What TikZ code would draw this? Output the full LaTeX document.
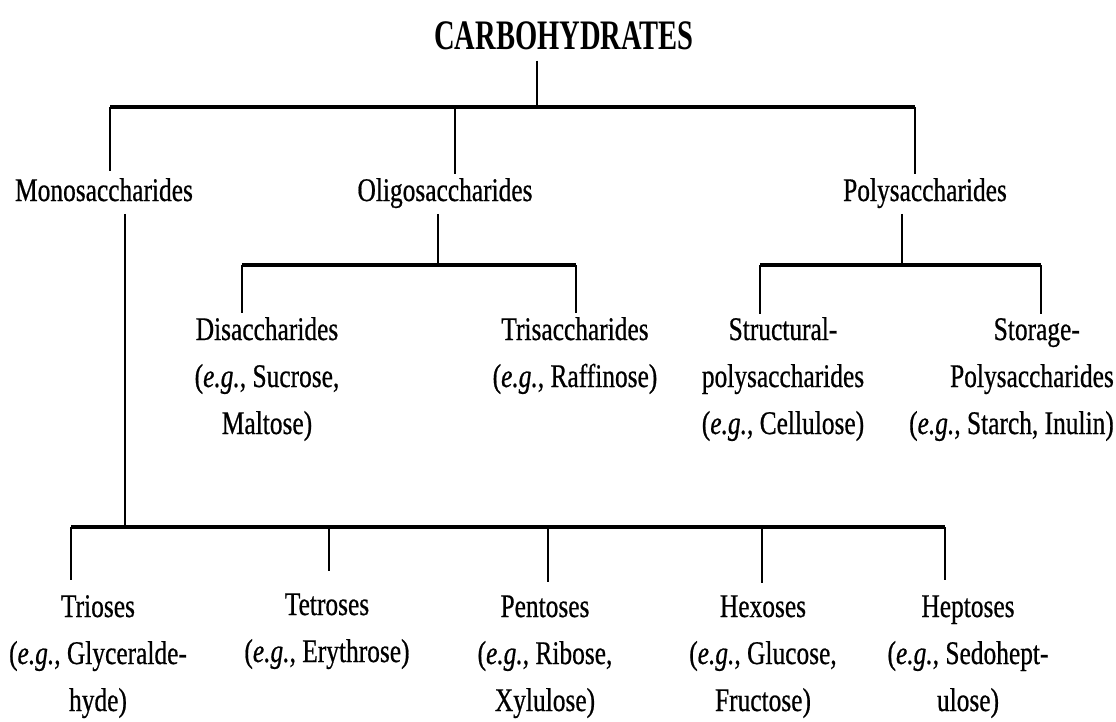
\documentclass[tikz,border=0pt]{standalone}
\usepackage{fontspec}
\setmainfont{Liberation Serif}[FakeStretch=0.77,FakeBold=0.6]
\newfontfamily\titlefnt{Liberation Serif}[FakeStretch=0.68]
\newcommand{\eg}{\textit{e.g.}}
\begin{document}
\begin{tikzpicture}[x=1pt,y=-1pt,
  bar/.style={line width=4.2pt},
  stem/.style={line width=2.2pt},
  lbl/.style={align=center,anchor=base,inner sep=0pt,font=\fontsize{33}{47}\selectfont},
  ttl/.style={anchor=base,inner sep=0pt,font=\titlefnt\bfseries\fontsize{42}{50}\selectfont}]
\useasboundingbox[fill=white] (0,0) rectangle (1116,722);

% nodes (base anchor = baseline of the last line)
\node[ttl] (carb) at (564,50) {CARBOHYDRATES};
\node[lbl] (mono) at (104,201) {Monosaccharides};
\node[lbl] (oligo) at (445,201) {Oligosaccharides};
\node[lbl] (poly) at (925,201) {Polysaccharides};

\node[lbl] (di) at (267,434) {Disaccharides\\(\eg, Sucrose,\\Maltose)};
\node[lbl] (tri) at (575,387) {Trisaccharides\\(\eg, Raffinose)};
\node[lbl] (struct) at (783,434) {Structural-\\polysaccharides\\(\eg, Cellulose)};
\node[lbl,align=right,anchor=base east] (stor) at (1114,434) {Storage-\hspace*{34pt}\\Polysaccharides\\(\eg, Starch, Inulin)};

\node[lbl] (trio) at (98,711) {Trioses\\(\eg, Glyceralde-\\hyde)};
\node[lbl] (tetr) at (327,662) {Tetroses\\(\eg, Erythrose)};
\node[lbl] (pent) at (545,711) {Pentoses\\(\eg, Ribose,\\Xylulose)};
\node[lbl] (hexo) at (763,711) {Hexoses\\(\eg, Glucose,\\Fructose)};
\node[lbl] (hept) at (968,711) {Heptoses\\(\eg, Sedohept-\\ulose)};

% junction coordinates
\coordinate (t0) at (537,107);
\coordinate (t1) at (110,107);
\coordinate (t2) at (455,107);
\coordinate (t3) at (915,107);
\coordinate (o0) at (438,265);
\coordinate (o1) at (242,265);
\coordinate (o2) at (576,265);
\coordinate (p0) at (902,265);
\coordinate (p1) at (760,265);
\coordinate (p2) at (1041,265);
\coordinate (m0) at (125,527);
\coordinate (m1) at (71,527);
\coordinate (m2) at (329,527);
\coordinate (m3) at (548,527);
\coordinate (m4) at (762,527);
\coordinate (m5) at (945,527);

% level 1
\draw[stem,shorten <=10pt] (carb.south -| t0) -- (t0);
\draw[bar] (t1) -- (t3);
\draw[stem] (t1) -- (110,171);
\draw[stem] (t2) -- (455,174);
\draw[stem] (t3) -- (915,174);

% oligosaccharides
\draw[stem] (438,214) -- (o0);
\draw[bar] (o1) -- (o2);
\draw[stem] (o1) -- (242,313);
\draw[stem] (o2) -- (576,313);

% polysaccharides
\draw[stem] (902,214) -- (p0);
\draw[bar] (p1) -- (p2);
\draw[stem] (p1) -- (760,314);
\draw[stem] (p2) -- (1041,314);

% monosaccharides
\draw[stem] (125,214) -- (m0);
\draw[bar] (m1) -- (m5);
\draw[stem] (m1) -- (71,580);
\draw[stem] (m2) -- (329,571);
\draw[stem] (m3) -- (548,582);
\draw[stem] (m4) -- (762,583);
\draw[stem] (m5) -- (945,580);
\end{tikzpicture}
\end{document}
